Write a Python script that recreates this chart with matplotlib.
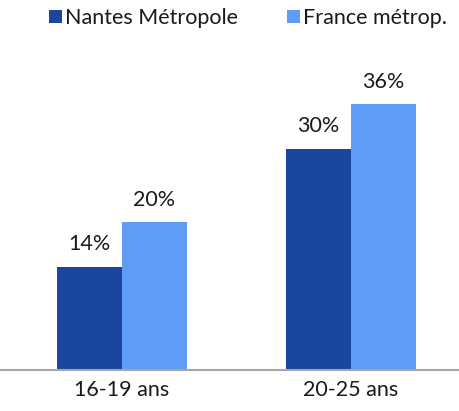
import matplotlib.pyplot as plt
import numpy as np

plt.rcParams['font.family'] = ['Lato', 'DejaVu Sans']

groups = ["16-19 ans", "20-25 ans"]
nantes = [14, 30]
france = [20, 36]
series_names = ["Nantes Métropole", "France métrop."]

dark = "#1A46A0"
light = "#5E9CF5"
txt = "#1a1a1a"
fs = 15.5

fig = plt.figure(figsize=(4.59, 4.11), dpi=100)
ax = fig.add_axes([0, (411 - 370) / 411, 1, 330 / 411])

x = np.arange(len(groups))
w = 0.284
b1 = ax.bar(x - w / 2, nantes, w, color=dark, label=series_names[0])
b2 = ax.bar(x + w / 2, france, w, color=light, label=series_names[1])

for bars, vals in ((b1, nantes), (b2, france)):
    for r, v in zip(bars, vals):
        ax.annotate(f"{v}%", (r.get_x() + r.get_width() / 2, v),
                    xytext=(0, 9), textcoords="offset points",
                    ha="center", va="bottom", fontsize=fs, color=txt)

ax.set_xlim(-0.533, 1.472)
ax.set_ylim(0, 44.7)
ax.set_xticks(x)
ax.set_xticklabels(groups, fontsize=fs, color=txt)
ax.tick_params(axis="x", length=0, pad=7)
ax.set_yticks([])
for s in ("top", "right", "left"):
    ax.spines[s].set_visible(False)
ax.spines["bottom"].set_color("#a6a6a6")
ax.spines["bottom"].set_linewidth(1.5)

ax.legend(loc="upper center", bbox_to_anchor=(0.54, 1.097), ncol=2, frameon=False,
          fontsize=fs, handlelength=0.6, handleheight=0.6, handletextpad=0.15,
          columnspacing=2.27, labelcolor=txt, borderaxespad=0, borderpad=0)

fig.savefig("out.png", dpi=100)
